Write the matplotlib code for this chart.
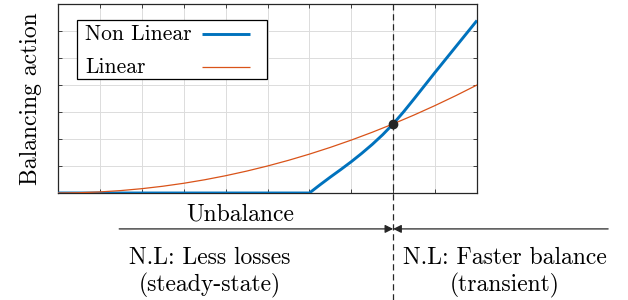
import matplotlib
matplotlib.use("Agg")
import matplotlib.pyplot as plt
from matplotlib.patches import Rectangle
from matplotlib.lines import Line2D

plt.rcParams['font.family'] = ['cmr10', 'DejaVu Serif']
plt.rcParams['mathtext.fontset'] = 'cm'
plt.rcParams['axes.unicode_minus'] = False

# ---- data ----
x_lin = [0, 0.5, 1, 1.5, 2, 2.5, 3, 3.5, 4, 4.5, 5, 5.5, 6, 6.5, 7, 7.5, 8, 8.5, 9, 9.5, 10]
y_lin = [0, 0.01, 0.04, 0.09, 0.16, 0.25, 0.36, 0.49, 0.64, 0.81, 1.0, 1.21, 1.44,
         1.69, 1.96, 2.25, 2.56, 2.89, 3.24, 3.61, 4.0]
x_nl = [0, 6, 6.25, 6.5, 6.75, 7, 7.25, 7.5, 7.75, 8, 8.25, 8.5, 8.75, 9, 9.25, 9.5, 9.75, 10]
y_nl = [0, 0, 0.30, 0.59, 0.87, 1.16, 1.47, 1.80, 2.16, 2.56, 3.01, 3.49, 3.98, 4.47,
        4.95, 5.43, 5.91, 6.39]
cross_x = 8
cross_y = 2.56
labels = ["Non Linear", "Linear"]

blue = '#0072BD'
orange = '#D95319'
dark = '#262626'

fig = plt.figure(figsize=(6.28, 3.0), dpi=100)
ax = fig.add_axes([58/628, 1-193/300, 419/628, 189/300])

l_nl, = ax.plot(x_nl, y_nl, color=blue, lw=2.1, label=labels[0], solid_capstyle='butt',
                solid_joinstyle='round', zorder=3)
l_lin, = ax.plot(x_lin, y_lin, color=orange, lw=0.9, label=labels[1], zorder=3)
ax.plot([cross_x], [cross_y], 'o', color=dark, ms=6, zorder=5)

ax.set_xlim(0, 10)
ax.set_ylim(0, 7)
ax.set_xticks(range(0, 11))
ax.set_yticks(range(0, 8))
ax.set_xticklabels([])
ax.set_yticklabels([])
ax.tick_params(direction='in', length=3, width=0.6, color=dark, top=True, right=True)
ax.grid(True, color='#dcdcdc', lw=0.7)
ax.set_axisbelow(True)
for s in ax.spines.values():
    s.set_color(dark)
    s.set_linewidth(0.9)

ax.set_ylabel("Balancing action", fontsize=17, labelpad=8)

# legend (text left, line sample right)
T = ax.transAxes
ax.add_patch(Rectangle((0.0453, 0.603), 0.4535, 0.312, transform=T, facecolor='white',
                       edgecolor='black', lw=0.9, zorder=6))
for line, lab, ytxt, yline in [(l_nl, labels[0], 0.807, 0.841), (l_lin, labels[1], 0.633, 0.668)]:
    ax.text(0.0644, ytxt, lab, transform=T, fontsize=15.5, ha='left', va='baseline', zorder=7)
    ax.add_line(Line2D([0.344, 0.458], [yline, yline], transform=T, color=line.get_color(),
                       lw=line.get_linewidth(), solid_capstyle='butt', zorder=7))

# dashed separator
ax.plot([cross_x, cross_x], [-3.95, 7], color=dark, lw=0.9, ls=(0, (5, 3)),
        clip_on=False, zorder=4)

# annotations below the axes
ax.text(4.34, -0.81, "Unbalance", fontsize=17, ha='center', va='center')
ax.annotate("", xy=(cross_x, -1.33), xytext=(1.46, -1.33),
            arrowprops=dict(arrowstyle='-|>', color=dark, lw=0.9, shrinkA=0, shrinkB=0,
                            mutation_scale=12), annotation_clip=False)
ax.annotate("", xy=(cross_x, -1.33), xytext=(13.13, -1.33),
            arrowprops=dict(arrowstyle='-|>', color=dark, lw=0.9, shrinkA=0, shrinkB=0,
                            mutation_scale=12), annotation_clip=False)
ax.text(3.63, -2.40, "N.L: Less losses", fontsize=17, ha='center', va='center')
ax.text(3.63, -3.43, "(steady-state)", fontsize=17, ha='center', va='center')
ax.text(10.67, -2.40, "N.L: Faster balance", fontsize=17, ha='center', va='center')
ax.text(10.67, -3.43, "(transient)", fontsize=17, ha='center', va='center')

fig.savefig("out.png", dpi=100)
